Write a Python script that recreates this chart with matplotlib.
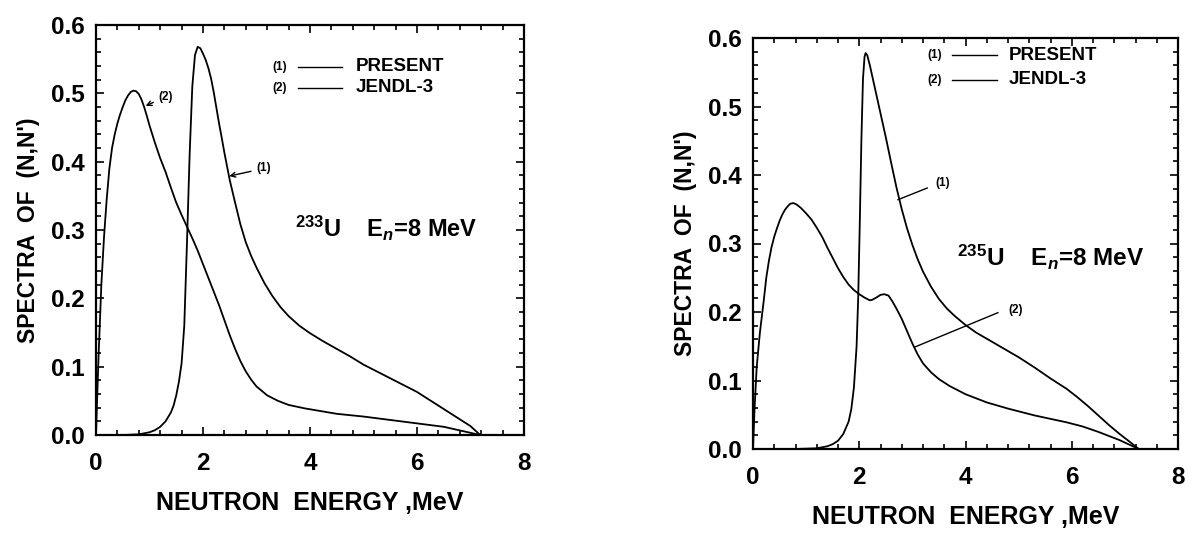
import matplotlib
matplotlib.use("Agg")
import matplotlib.pyplot as plt
from matplotlib.ticker import MultipleLocator

plt.rcParams['font.family'] = ['Liberation Sans', 'DejaVu Sans']
plt.rcParams['font.weight'] = 'bold'
plt.rcParams['mathtext.fontset'] = 'custom'
plt.rcParams['mathtext.rm'] = 'Liberation Sans:bold'
plt.rcParams['mathtext.bf'] = 'Liberation Sans:bold'
plt.rcParams['mathtext.it'] = 'Liberation Sans:bold:italic'

# U-233, En = 8 MeV
u233_present_e = [0, 0.5, 0.8, 1.0, 1.1, 1.2, 1.3, 1.4, 1.45, 1.5, 1.55, 1.6, 1.65, 1.7, 1.75, 1.8,
                  1.85, 1.9, 1.95, 2.0, 2.05, 2.1, 2.15, 2.2, 2.25, 2.3, 2.35, 2.4, 2.45, 2.5, 2.6,
                  2.7, 2.8, 2.9, 3.0, 3.15, 3.3, 3.45, 3.6, 3.8, 4.0, 4.25, 4.5, 4.75, 5.0, 5.25,
                  5.5, 5.75, 6.0, 6.2, 6.4, 6.6, 6.8, 7.0, 7.18]
u233_present_s = [0, 0, 0.001, 0.004, 0.007, 0.012, 0.02, 0.033, 0.043, 0.058, 0.078, 0.105, 0.16,
                  0.28, 0.41, 0.51, 0.556, 0.568, 0.566, 0.558, 0.549, 0.537, 0.522, 0.502, 0.479,
                  0.456, 0.435, 0.413, 0.393, 0.373, 0.34, 0.308, 0.282, 0.262, 0.245, 0.222,
                  0.203, 0.187, 0.174, 0.16, 0.149, 0.137, 0.126, 0.115, 0.103, 0.093, 0.083,
                  0.073, 0.063, 0.053, 0.043, 0.033, 0.023, 0.013, 0.0]
u233_jendl_e = [0, 0.02, 0.05, 0.1, 0.15, 0.2, 0.25, 0.3, 0.35, 0.4, 0.45, 0.5, 0.55, 0.6, 0.65,
                0.7, 0.75, 0.8, 0.85, 0.9, 0.95, 1.0, 1.1, 1.2, 1.3, 1.4, 1.5, 1.6, 1.7, 1.8, 1.9,
                2.0, 2.1, 2.2, 2.3, 2.4, 2.5, 2.6, 2.7, 2.8, 2.9, 3.0, 3.2, 3.4, 3.6, 3.9, 4.5,
                5.0, 5.5, 6.0, 6.5, 7.18]
u233_jendl_s = [0, 0.05, 0.12, 0.22, 0.29, 0.345, 0.39, 0.42, 0.44, 0.456, 0.469, 0.48, 0.49,
                0.497, 0.502, 0.504, 0.503, 0.499, 0.491, 0.48, 0.467, 0.453, 0.428, 0.405, 0.385,
                0.362, 0.34, 0.322, 0.305, 0.288, 0.27, 0.25, 0.23, 0.21, 0.19, 0.168, 0.146,
                0.126, 0.108, 0.093, 0.081, 0.071, 0.058, 0.05, 0.044, 0.039, 0.031, 0.027,
                0.022, 0.017, 0.012, 0.0]

# U-235, En = 8 MeV
u235_present_e = [0, 0.8, 1.2, 1.4, 1.5, 1.6, 1.7, 1.8, 1.85, 1.9, 1.95, 1.98, 2.01, 2.04, 2.07,
                  2.1, 2.12, 2.15, 2.2, 2.3, 2.4, 2.5, 2.6, 2.7, 2.8, 2.9, 3.0, 3.1, 3.2, 3.35,
                  3.5, 3.65, 3.8, 4.0, 4.2, 4.4, 4.6, 4.8, 5.0, 5.3, 5.6, 5.9, 6.1, 6.3, 6.5, 6.7,
                  6.9, 7.1, 7.26]
u235_present_s = [0, 0, 0.001, 0.004, 0.007, 0.012, 0.022, 0.04, 0.058, 0.09, 0.15, 0.22, 0.33,
                  0.45, 0.54, 0.573, 0.578, 0.575, 0.56, 0.525, 0.49, 0.455, 0.418, 0.382, 0.35,
                  0.322, 0.298, 0.277, 0.259, 0.237, 0.219, 0.205, 0.194, 0.181, 0.17, 0.161,
                  0.152, 0.143, 0.134, 0.119, 0.103, 0.088, 0.076, 0.063, 0.049, 0.035, 0.022,
                  0.01, 0.0]
u235_jendl_e = [0, 0.03, 0.07, 0.13, 0.2, 0.25, 0.3, 0.35, 0.4, 0.45, 0.5, 0.55, 0.6, 0.65, 0.7,
                0.76, 0.82, 0.9, 1.0, 1.1, 1.2, 1.3, 1.4, 1.5, 1.6, 1.7, 1.8, 1.9, 2.0, 2.1, 2.2,
                2.25, 2.32, 2.4, 2.47, 2.55, 2.62, 2.7, 2.8, 2.9, 3.0, 3.1, 3.2, 3.35, 3.5, 3.7,
                4.0, 4.4, 4.8, 5.3, 5.9, 6.2, 6.5, 6.9, 7.26]
u235_jendl_s = [0, 0.06, 0.12, 0.17, 0.215, 0.25, 0.275, 0.295, 0.31, 0.322, 0.333, 0.342, 0.349,
                0.354, 0.358, 0.359, 0.357, 0.352, 0.344, 0.335, 0.323, 0.31, 0.294, 0.279,
                0.264, 0.251, 0.24, 0.232, 0.226, 0.221, 0.217, 0.218, 0.221, 0.225, 0.226,
                0.224, 0.216, 0.205, 0.19, 0.172, 0.154, 0.138, 0.125, 0.112, 0.102, 0.092,
                0.08, 0.068, 0.059, 0.049, 0.039, 0.033, 0.025, 0.013, 0.0]

xticks = [0, 2, 4, 6, 8]
yticks = [0.0, 0.1, 0.2, 0.3, 0.4, 0.5, 0.6]

fig = plt.figure(figsize=(11.88, 5.39), dpi=100)
ax1 = fig.add_axes([96/1188, 104/539, 428/1188, 410/539])
ax2 = fig.add_axes([753/1188, 90/539, 425/1188, 411/539])


def style(ax):
    ax.set_xlim(0, 8)
    ax.set_ylim(0, 0.6)
    ax.set_xticks(xticks)
    ax.set_yticks(yticks)
    ax.set_yticklabels(['%.1f' % v for v in yticks])
    ax.xaxis.set_minor_locator(MultipleLocator(0.4))
    ax.yaxis.set_minor_locator(MultipleLocator(0.02))
    ax.tick_params(which='both', direction='in', top=True, right=True, width=1.2)
    ax.tick_params(which='major', length=6, labelsize=17.5)
    ax.tick_params(which='minor', length=3.5)
    ax.tick_params(axis='x', which='major', pad=12)
    ax.tick_params(axis='y', which='major', pad=8)
    for s in ax.spines.values():
        s.set_linewidth(1.6)
    ax.set_xlabel('NEUTRON  ENERGY ,MeV', fontsize=18, fontweight='bold', labelpad=12)
    ax.set_ylabel("SPECTRA  OF  (N,N')", fontsize=16.5, fontweight='bold', labelpad=8)


# left panel
ax1.plot(u233_present_e, u233_present_s, color='black', lw=1.3)
ax1.plot(u233_jendl_e, u233_jendl_s, color='black', lw=1.3)
style(ax1)
ax1.text(3.3, 0.539, '(1)', fontsize=8.5, va='center')
ax1.plot([3.78, 4.6], [0.539, 0.539], color='black', lw=1)
ax1.text(4.86, 0.539, 'PRESENT', fontsize=13.5, va='center')
ax1.text(3.3, 0.508, '(2)', fontsize=8.5, va='center')
ax1.plot([3.78, 4.6], [0.508, 0.508], color='black', lw=1)
ax1.text(4.86, 0.508, 'JENDL-3', fontsize=13.5, va='center')
ax1.annotate('(2)', xy=(0.88, 0.48), xytext=(1.17, 0.495), fontsize=8.5, va='center',
             arrowprops=dict(arrowstyle='->', color='black', lw=1))
ax1.annotate('(1)', xy=(2.44, 0.378), xytext=(3.0, 0.39), fontsize=8.5, va='center',
             arrowprops=dict(arrowstyle='->', color='black', lw=1))
ax1.text(3.72, 0.29, r'$^{233}$U    E$_{\mathit{n}}$=8 MeV', fontsize=17)

# right panel
ax2.plot(u235_present_e, u235_present_s, color='black', lw=1.3)
ax2.plot(u235_jendl_e, u235_jendl_s, color='black', lw=1.3)
style(ax2)
ax2.text(3.28, 0.575, '(1)', fontsize=8.5, va='center')
ax2.plot([3.75, 4.6], [0.575, 0.575], color='black', lw=1)
ax2.text(4.82, 0.575, 'PRESENT', fontsize=13.5, va='center')
ax2.text(3.28, 0.539, '(2)', fontsize=8.5, va='center')
ax2.plot([3.75, 4.6], [0.539, 0.539], color='black', lw=1)
ax2.text(4.82, 0.539, 'JENDL-3', fontsize=13.5, va='center')
ax2.plot([2.73, 3.28], [0.364, 0.381], color='black', lw=1)
ax2.text(3.43, 0.388, '(1)', fontsize=8.5, va='center')
ax2.plot([3.05, 4.61], [0.149, 0.199], color='black', lw=1)
ax2.text(4.8, 0.203, '(2)', fontsize=8.5, va='center')
ax2.text(3.84, 0.267, r'$^{235}$U    E$_{n}$=8 MeV', fontsize=17.5)

fig.savefig('out.png', dpi=100)
